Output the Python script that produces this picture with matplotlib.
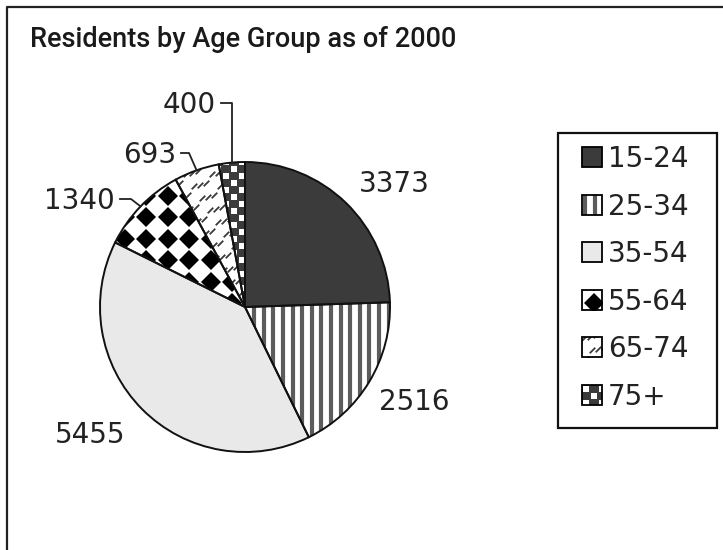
import numpy as np
import matplotlib
matplotlib.use('Agg')
import matplotlib.pyplot as plt
from matplotlib.patches import Rectangle, Wedge
from matplotlib.path import Path

plt.rcParams['font.family'] = 'DejaVu Sans'

#%% Data

age_groups = ['15-24', '25-34', '35-54', '55-64', '65-74', '75+']
residents = [3373, 2516, 5455, 1340, 693, 400]

#%% Layout (pixel coords, y down)

W, H = 723, 550
CX, CY, R = 245, 307, 145
# label anchor: (x, baseline y, alignment, elbow x for leader or None)
label_pos = [
    (394, 192, 'center', None),
    (414, 410, 'center', None),
    (90, 443, 'center', None),
    (115, 209, 'right', 131),
    (176, 163, 'right', 189),
    (216, 113, 'right', 'edge'),
]
styles = ['dark', 'stripes', 'light', 'diamonds', 'dashes', 'checks']

fig = plt.figure(figsize=(W / 100, H / 100), dpi=100)
ax = fig.add_axes([0, 0, 1, 1])

# y axis inverted, so counterclock=True draws clockwise on screen from the top
wedges, _ = ax.pie(residents, center=(CX, CY), radius=R, startangle=-90,
                   counterclock=True, frame=True,
                   wedgeprops=dict(edgecolor='none', linewidth=0))
ax.set_xlim(0, W)
ax.set_ylim(H, 0)
ax.set_aspect('auto')
ax.axis('off')


def lattice(x0, y0, x1, y1, dx, dy, ox=0, oy=0):
    xs = np.arange(x0 - dx - ((x0 - ox) % dx), x1 + dx, dx)
    ys = np.arange(y0 - dy - ((y0 - oy) % dy), y1 + dy, dy)
    return np.meshgrid(xs, ys)


slash = Path([(-0.5, -0.5), (0.5, 0.5)], [Path.MOVETO, Path.LINETO])


def decorate(patch, kind, box, org=None):
    x0, y0, x1, y1 = box
    arts = []
    if kind == 'dark':
        patch.set_facecolor('#3b3b3b')
    elif kind == 'light':
        patch.set_facecolor('#e9e9e9')
    elif kind == 'stripes':
        patch.set_facecolor('white')
        sx = 255 if org is None else org[0]
        xs = np.arange(x0 - 20 - ((x0 - sx) % 9.6), x1 + 10, 9.6)
        arts.append(ax.vlines(xs, y0 - 5, y1 + 5, colors='#5c5c5c', linewidth=3.0))
    elif kind == 'diamonds':
        patch.set_facecolor('white')
        ox, oy = (146, 217) if org is None else org
        gx, gy = lattice(x0, y0, x1, y1, 21.5, 21.5, ox, oy)
        arts += ax.plot(gx.ravel(), gy.ravel(), 'D', color='black', ms=10.3, mew=0)
    elif kind == 'dashes':
        patch.set_facecolor('white')
        ox, oy = (x0, y0) if org is None else org
        pts = []
        for j in range(-4, int((y1 - y0) / 12) + 5):
            for g in range(-4, int((x1 - x0) / 26) + 5):
                for i in range(3):
                    pts.append((ox + 26 * g + 6 * i + 8 * j, oy + 12 * j - 1.5 * i))
        pts = np.array(pts)
        arts += ax.plot(pts[:, 0], pts[:, 1], ls='none', marker=slash, ms=4.0,
                        mew=1.3, color='#3a3a3a')
    elif kind == 'checks':
        patch.set_facecolor('#3b3b3b')
        ox, oy = (226, 162) if org is None else org
        gx, gy = lattice(x0, y0, x1, y1, 8, 7, ox, oy)
        ii = np.round((gx - ox) / 8).astype(int) + np.round((gy - oy) / 7).astype(int)
        keep = ii % 2 == 0
        arts += ax.plot(gx[keep], gy[keep], 's', color='white', ms=3.8, mew=0)
    for a in arts:
        a.set_clip_path(patch)
    return arts


for w, kind in zip(wedges, styles):
    decorate(w, kind, (CX - R, CY - R, CX + R, CY + R))
    w.set_zorder(1)
# wedge outlines above the fill patterns
for w in wedges:
    ax.add_patch(Wedge((CX, CY), R, w.theta1, w.theta2, facecolor='none',
                       edgecolor='#111111', linewidth=1.4, zorder=3))

# value labels and leader lines
for w, val, (lx, ly, ha, elbow) in zip(wedges, residents, label_pos):
    ax.text(lx, ly, str(val), ha=ha, va='baseline', fontsize=20, color='#222222')
    if elbow is not None:
        mid = np.deg2rad((w.theta1 + w.theta2) / 2)
        ex, ey = CX + R * np.cos(mid), CY + R * np.sin(mid)
        ly_mid = ly - 10
        bx = ex if elbow == 'edge' else elbow
        ax.plot([lx + 5, bx, ex], [ly_mid, ly_mid, ey], color='#222222',
                linewidth=1.3, zorder=4)

# legend box
ax.add_patch(Rectangle((558, 133), 159, 295, facecolor='white',
                       edgecolor='#111111', linewidth=1.6))
swatch_org = {'stripes': (585, 0), 'diamonds': (595, None), 'dashes': (588, None),
              'checks': (585, None)}
for k, (name, kind) in enumerate(zip(age_groups, styles)):
    yc = 157 + 47.6 * k
    sw = Rectangle((582, yc - 10), 20, 20, facecolor='white', edgecolor='none',
                   zorder=2)
    ax.add_patch(sw)
    org = None
    if kind == 'stripes':
        org = (586, yc)
    elif kind == 'diamonds':
        org = (594, yc + 3)
    elif kind == 'dashes':
        org = (592, yc + 3)
    elif kind == 'checks':
        org = (586, yc - 6)
    decorate(sw, kind, (582, yc - 10, 602, yc + 10), org)
    ax.add_patch(Rectangle((582, yc - 10), 20, 20, facecolor='none',
                           edgecolor='black', linewidth=1.3, zorder=3))
    ax.text(608, yc + 10, name, ha='left', va='baseline', fontsize=20,
            color='#222222')

# title and frame
ax.text(30, 47, 'Residents by Age Group as of 2000', ha='left', va='baseline',
        fontsize=19.5, color='#1a1a1a', family='Roboto', weight='medium')
ax.plot([7, 7, W], [H, 7, 7], color='#222222', linewidth=1.6, clip_on=False)

fig.savefig('out.png', dpi=100)
